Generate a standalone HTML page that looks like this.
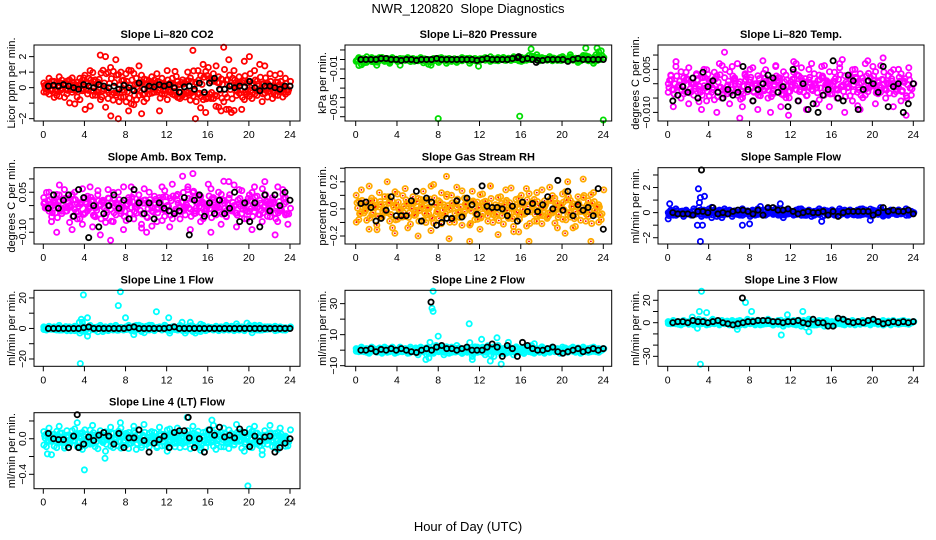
<!DOCTYPE html>
<html><head><meta charset="utf-8"><style>
html,body{margin:0;padding:0;background:#fff}
svg{display:block;font-family:"Liberation Sans",sans-serif}
</style></head><body>
<svg id="fig" width="936" height="540" xmlns="http://www.w3.org/2000/svg">
<rect width="936" height="540" fill="#fff"/>
<text x="468" y="13" text-anchor="middle" font-size="13">NWR_120820&#160;&#160;Slope Diagnostics</text>
<text x="468" y="531" text-anchor="middle" font-size="13">Hour of Day (UTC)</text>
</svg>
<script>
// ---- data (values in data units; x = hour spread evenly over 0..24 by index) ----
const hourTicks = [0,4,8,12,16,20,24];
// CO2 (ppm/min)
const co2Color = [0.3,-0.3,0.6,-0.2,0.4,-0.5,0.7,-0.1,0.3,-0.4,0.5,-0.3,0.2,-0.6,0.6,-0.2,0.8,-0.4,1.1,-0.5,0.5,-0.3,2.1,-0.2,2.0,-0.7,1.3,-0.8,1.8,-2.0,1.0,-0.6,0.9,-1.5,1.1,-1.1,0.6,-0.5,0.8,-0.9,0.5,-0.4,0.7,-0.3,0.9,-1.5,0.6,-0.4,1.1,-0.3,0.6,-0.5,0.4,-0.7,0.5,-0.6,1.0,-0.8,2.4,-2.0,1.1,-1.3,1.5,-1.6,1.3,-0.7,0.9,-1.2,0.7,-1.5,2.6,-1.4,1.8,-1.6,1.1,-0.5,0.7,-1.4,1.7,-0.4,2.0,-0.7,1.1,-0.5,1.5,-0.9,1.4,-0.6,0.9,-0.7,0.8,-0.5,0.9,-0.6,0.6,-0.3,0.4];
const co2Black = [0.1,0.15,0.1,0.2,0.1,0,-0.1,0.2,0.1,0,0.2,0.1,0,0.1,-0.1,0.15,0,-0.2,0.3,-0.1,0.1,0.05,0.2,0.1,0.2,0,-0.3,0.05,0.1,-0.1,0.3,-0.3,0.3,0.6,-0.1,-0.1,0.1,0,0.1,0.05,0.4,0,-0.2,0.1,0.1,0,-0.1,0.1,0.1];
// Pressure (kPa/min)
const presColor = [-0.002,0.002,-0.005,0.001,-0.003,0,0.002,-0.001,-0.006,0.002,0,-0.002,0.001,-0.004,0.002,0,-0.002,0.001,0,-0.001,0.002,0,0.001,-0.001,0,0.002,-0.001,-0.001,-0.005,-0.006,0.001,0,-0.003,0.002,0,-0.004,0.001,-0.002,0,-0.003,-0.001,0.002,0,0.001,-0.004,0,0.001,-0.001,-0.001,0,0.002,0,-0.002,0.001,-0.001,0.002,0,0.001,-0.001,0.001,-0.001,0.002,0,0.001,-0.002,-0.001,0.002,0.001,0,0.003,0.005,-0.001,0.002,0.001,0,0.003,0.001,0,-0.001,0.002,0.003,0,-0.001,0.005,0.001,0,-0.003,-0.001,0.002,0.004,0.003,0.001,-0.004,0.005,0.008,0.009,0.002];
const presColorOutX = [8,15.9,24,11.9,4.3,17,22.3,23.4];
const presColorOutY = [-0.062,-0.0595,-0.0635,-0.007,-0.006,0.011,0.012,0.012];
const presBlack = [0,0,0,0,0.001,0.001,0,0,-0.001,0,0,-0.001,0,0,0,0.001,0,0,0,0,0,0,0,-0.001,0,0.001,0,0,0,0,0.001,0.002,0,0.001,0,-0.001,-0.001,0,0,0,0,-0.002,0,0.001,0,0,0,0,0];
// Li-820 Temp (degC/min)
const tempColor = [-0.003,0.003,-0.008,0.006,-0.001,-0.005,0.002,0.004,-0.007,0,-0.004,0.003,-0.002,-0.009,0.005,-0.006,0.001,-0.003,0.004,-0.010,0.007,-0.005,0.011,-0.001,-0.007,0.006,0.002,-0.004,-0.012,-0.008,0.003,-0.001,0.005,-0.006,0,-0.009,-0.003,0.008,0.002,-0.005,-0.010,-0.002,0.006,0.001,-0.008,-0.004,0.003,-0.011,-0.001,0.004,0.007,-0.006,0.002,-0.003,-0.009,0.005,-0.002,0,-0.007,0.003,0.006,-0.004,0.001,-0.008,-0.002,0.004,-0.005,0.007,-0.001,-0.010,0,0.003,-0.006,0.005,-0.003,-0.009,0.002,-0.004,0.008,-0.001,0.006,-0.007,0.001,-0.003,0.009,-0.005,0,0.004,-0.008,-0.002,0.005,-0.006,0.001,-0.011,0.003,-0.004,0];
const tempBlack = [-0.006,-0.004,-0.001,-0.003,0.002,-0.005,0.004,-0.001,0.001,-0.003,-0.005,-0.002,-0.004,-0.003,0.006,-0.002,-0.006,-0.002,0,0.003,0.002,-0.003,-0.001,-0.008,0.005,-0.006,0,-0.009,-0.007,-0.010,-0.004,-0.002,0.008,-0.005,-0.006,0.003,0.001,-0.009,-0.002,0.001,0,-0.003,0.006,-0.008,-0.001,0,-0.010,-0.007,0];
// Amb Box Temp (degC/min)
const ambColor = [0.03,-0.01,0.05,-0.06,0.02,-0.10,0.04,-0.03,0.06,-0.02,0,-0.09,0.05,-0.05,0.01,-0.07,0.03,-0.02,0.07,-0.08,-0.01,0.04,-0.11,0.02,-0.04,0.06,-0.13,-0.06,0.01,0.05,-0.03,-0.09,0,0.03,0.07,-0.05,-0.01,0.04,-0.07,0.02,-0.10,0.05,-0.02,0.01,-0.06,0.03,0.07,-0.04,0,-0.08,0.08,-0.03,0.02,-0.05,0.11,-0.01,0.06,-0.09,0.12,-0.02,0.04,-0.06,0.01,-0.03,0.08,-0.10,0.03,-0.01,0.05,-0.07,0.02,-0.04,0.09,-0.02,0,-0.08,0.06,-0.03,0.01,-0.05,0.04,-0.09,0.07,-0.01,0.02,-0.06,0.09,-0.04,0.01,0.03,-0.11,-0.06,-0.02,0.06,0.03,-0.07,-0.01];
const ambBlack = [-0.01,0.04,-0.01,0.02,0.04,-0.04,0.06,0.03,-0.12,0,-0.08,-0.03,0,0.04,-0.01,0.02,-0.05,0.06,0.01,-0.03,0.01,-0.05,0.01,-0.01,-0.02,-0.03,-0.02,0.03,-0.11,0.02,0.04,-0.04,0.01,-0.03,0.02,-0.03,-0.01,0.05,-0.06,0.01,-0.06,0.01,-0.08,0.04,-0.02,0.04,0,0.05,0.02];
// Gas Stream RH (%/min)
const rhColor = [0.10,-0.08,0.14,-0.03,0.05,-0.15,0.08,0.02,-0.12,0.12,-0.05,0.03,0.20,-0.09,0.06,-0.18,0.11,0,-0.06,0.15,-0.14,0.04,0.09,-0.02,-0.20,0.07,0.13,-0.10,0.01,-0.16,0.18,-0.04,0.06,-0.11,0.03,0.24,-0.22,0.10,-0.07,0.16,-0.03,-0.12,0.08,0.02,-0.24,0.13,-0.08,0.05,-0.15,0.11,0,-0.05,0.17,-0.10,0.03,-0.19,0.09,-0.02,0.14,-0.06,0.01,-0.13,0.07,-0.17,0.10,-0.04,0.15,-0.24,0.05,-0.09,0.12,-0.01,-0.11,0.06,-0.07,0.16,-0.03,0.08,-0.14,0.02,0.11,-0.18,0.20,-0.06,0.04,-0.13,0.09,-0.02,0.22,-0.09,0.06,-0.24,0.12,-0.04,0.03,-0.08,0.14];
const rhBlack = [0.04,0.05,0.01,-0.09,-0.07,-0.01,0.09,-0.05,-0.05,-0.05,0.06,0.13,-0.09,0.08,0.05,-0.12,-0.10,-0.07,-0.07,0.06,-0.06,0.08,0.03,-0.04,0.17,0.02,0.01,0.01,0,-0.05,0.02,-0.09,0.05,-0.02,0.04,-0.02,0.03,0.09,0,0.21,-0.01,0.13,-0.05,0.03,-0.01,0.01,-0.05,0.15,-0.15];
// Sample Flow (ml/min/min)
const sfColor = [-0.5,0.2,-0.2,0.3,-0.1,0.1,-0.3,0.2,0,-0.2,0.3,-0.1,0.4,-0.3,0.2,-0.2,0.3,-0.4,0.2,-0.3,0.2,-0.4,0.3,-0.1,0.2,-0.3,0.1,0,-0.2,0.3,-0.1,0.1,-0.3,0.2,-0.2,0.3,-0.1,0.2,-0.2,0.3,0.1,-0.1,0.3,-0.2,0.3,-0.4,0.2,-0.1,0.1,-0.2,0.2,-0.1,0.3,-0.2,0,0.2,-0.3,0.1,-0.1,0.3,-0.7,0.2,-0.1,0,0.2,-0.2,0.1,0.3,-0.1,0.2,-0.2,0.1,0,-0.1,0.2,-0.2,0.3,-0.1,0.1,-0.6,0.2,-0.1,0.1,0.4,-0.2,0.1,-0.1,0.2,0,-0.1,0.2,-0.1,0.1,0.3,-0.2,0.1,0];
const sfColorOutX = [0.2,3,3.2,3.6,3.2,3.4,3.1,7.3,8,11,2.9];
const sfColorOutY = [0.7,1.9,1.2,1.3,-2.3,-1.0,0.8,-1.0,-0.9,0.7,-1.0];
const sfBlack = [0,-0.1,-0.1,-0.1,-0.2,0.1,0.1,0,0.4,-0.1,0,-0.1,0.1,0.2,0.2,0.1,-0.1,0.2,-0.2,0.4,0.4,0.2,0.2,0.3,0.1,-0.1,0,0.1,0,0,0.1,-0.2,0.1,-0.3,0,0.1,0.1,0.1,0.1,0.1,-0.2,0,0.4,0.1,0.2,0.1,0.1,0.2,-0.1];
const sfBlackOutX = [3.3];
const sfBlackOutY = [3.4];
// Line 1 Flow
const l1Color = [1,-1,1.5,-0.5,1,-1,2,-1,0.5,-1.5,1,0,1.5,-1,-3,4,-2,-5,2,0,-1,1,2,-2,1,-1,1.5,-1,2,-1,0.5,-1,1,2,-1,-4,2,0,-2,1,1.5,-1,2,-1,0.5,1,-1,2,-1,-3,1,0,-1,2,-1,-3,1,4,-2,-3,1,-2,2,-1,1,0,-1,1.5,-1,1,0,2,-1,1,-0.5,3,-1,1,-1,0,2,-1,1,-1,2,-1,1,-0.5,1,0,1.5,-1,1,-1,0.5,0,1];
const l1ColorOutX = [3.9,3.6,4.3,3.5,7.5,7.3,8,11,12.2,13.5,3.7];
const l1ColorOutY = [22,-23,7,4,24,15,7,11,7,4,6];
const l1Black = [0,0,0,0,0,0,0,0.5,1,0,0,0,0,0,0,0,0.5,1,0,0,0,0,0,0,0.5,1,0,0,0,0,0,0,0,0,0,0,0,0,0,0,0,0,0,0,0,0,0,0,0];
// Line 2 Flow
const l2Color = [1,-1,2,-1,1,-2,2,0,-1,1,-2,2,1,-1,2,-2,0,2,-1,1,-2,2,-1,1,-3,2,-1,-6,2,-1,-2,3,-1,2,-3,1,-2,2,-1,3,-1,-2,1,2,-1,-4,1,2,-1,2,-3,1,-7,2,-1,3,-2,1,-2,2,-1,-3,2,-1,1,-2,2,-1,3,-2,1,-1,2,-2,1,-1,2,-1,1,-2,2,0,-1,1,2,-1,1,-2,2,-1,1,-1,2,-1,1,0,1];
const l2ColorOutX = [7.5,7.4,7.5,11,8,12.2,13.7,14.1,13.4,7.1,11.3,14.8,7.2];
const l2ColorOutY = [38,27,25,17,9,7,8,-9,-4,-5,-6,5,5];
const l2Black = [0,0,1,-1,0.5,0,1,0,1,0,-1,-1.5,0,1,0,2,3,1,1,0,1,2,0,0,0,2,4,2,-4,3,1,-4,5,3,1,0,0,1,2,-1,-2,-1,0,1,-1,0,1,0,1];
const l2BlackOutX = [7.3];
const l2BlackOutY = [31];
// Line 3 Flow
const l3Color = [1,-1,2,-1,1,-2,2,0,-1,2,-2,1,3,-1,2,-2,0,2,-1,1,-2,2,-1,1,-2,2,-1,-3,2,-1,-2,3,-1,2,-2,1,-2,2,-1,3,-1,-2,1,2,-1,-3,1,2,-1,2,-2,1,-3,2,-1,3,-2,1,-2,2,-1,-3,2,-1,1,-2,2,-1,3,-2,1,-1,2,-2,1,-1,2,-1,1,-2,2,0,-1,1,2,-1,1,-2,2,-1,1,-1,2,-1,1,0,1];
const l3ColorOutX = [3.3,3.2,3.1,3.8,2.9,7.6,8.2,6.8,11.1,11.7,13.2,13.8,13.5,4.4,2.4];
const l3ColorOutY = [28,-37,10,9,-5,18,10,-6,-11,7,10,-8,-4,3,5];
const l3Black = [0,1,1,0,2,1,1,0,1,2,0,-1,-2,-1,0,1,1,2,2,2,1,1,0,1,1,2,0,-1,3,0,0,-3,-3,4,3,1,0,1,0,2,3,1,-1,0,1,0,1,0,1];
const l3BlackOutX = [7.3];
const l3BlackOutY = [22];
// Line 4 (LT) Flow
const l4Color = [0.08,-0.09,0.12,-0.03,0.05,-0.10,0.14,0.02,-0.08,0.09,-0.05,0.03,0.11,-0.09,0.06,-0.12,0.10,0,-0.06,0.15,-0.09,0.04,0.09,-0.02,-0.14,0.07,0.13,-0.10,0.01,-0.08,0.12,-0.04,0.06,-0.11,0.03,0.14,-0.12,0.10,-0.07,0.16,-0.03,-0.09,0.08,0.02,-0.10,0.13,-0.08,0.05,-0.14,0.11,0,-0.05,0.12,-0.10,0.03,-0.09,0.09,-0.02,0.14,-0.06,0.01,-0.13,0.07,-0.10,0.10,-0.04,0.15,-0.12,0.05,-0.09,0.12,-0.01,-0.11,0.06,-0.07,0.16,-0.03,0.08,-0.14,0.02,0.11,-0.10,0.14,-0.06,0.04,-0.13,0.09,-0.02,0.15,-0.09,0.06,-0.12,0.12,-0.04,0.03,-0.08,0.10];
const l4ColorOutX = [4,19.9,6,14,16.4,3.3,0.4,0.8,7.5,21.3];
const l4ColorOutY = [-0.35,-0.53,-0.22,0.24,0.21,0.18,-0.17,-0.18,0.18,-0.18];
const l4Black = [0.06,0,-0.01,-0.01,-0.1,0.03,-0.1,-0.06,0.02,-0.02,0.04,0.07,0.03,-0.06,0.06,-0.1,0.01,0.01,0.1,-0.02,-0.15,-0.05,-0.01,0.03,-0.1,0.07,0.09,0.09,0.01,-0.1,0,-0.15,0.1,0.04,0.13,0.02,0.04,0.01,0.11,0.07,-0.09,0.03,-0.03,0.02,0.03,-0.15,-0.1,-0.05,0];
const l4BlackOutX = [3.3,14.1];
const l4BlackOutY = [0.27,0.24];

// ---- layout ----
const cols = [{b0:34,b1:300,h0:43.3,h1:290},{b0:345,b1:611.7,h0:355.7,h1:603.3},{b0:658,b1:924,h0:667.7,h1:913.3}];
const rows = [{t:45,b:121},{t:167.7,b:244},{t:290.3,b:366.3},{t:412.7,b:488.7}];
const NS = 'http://www.w3.org/2000/svg';
const svg = document.getElementById('fig');
function mk(tag, attrs, parent){const e=document.createElementNS(NS,tag);for(const k in attrs)e.setAttribute(k,attrs[k]);(parent||svg).appendChild(e);return e;}

function panel(ci, ri, name, title, ytitle, ymin, ymax, yticks, ylabels, color, cVals, bVals, cox, coy, box, boy, dot){
  const C=cols[ci], R=rows[ri];
  const g=mk('g',{});
  
  
  const xs=h=>C.h0+h/24*(C.h1-C.h0);
  const ys=v=>R.t+(ymax-v)/(ymax-ymin)*(R.b-R.t);
  const t=mk('text',{x:(C.b0+C.b1)/2,y:R.t-7,'text-anchor':'middle','font-size':11,'font-weight':'bold'},g);
  t.textContent=title;
  
  
  const yt=mk('text',{x:0,y:0,'text-anchor':'middle','font-size':11,transform:`translate(${C.b0-19},${(R.t+R.b)/2}) rotate(-90)`},g);
  yt.textContent=ytitle;
  
  
  const pts=mk('g',{fill:'none','stroke-width':1.8},g);
  
  
  const addPt=(x,y,col,r)=>{const c=mk('circle',{cx:xs(x).toFixed(1),cy:ys(y).toFixed(1),r:r,stroke:col},pts);
    
    
    if(dot && col!=='#000'){const d=mk('circle',{cx:xs(x).toFixed(1),cy:ys(y).toFixed(1),r:0.9,fill:dot,stroke:'none'},pts);
      
      }
  };
  const n=cVals.length-1;
  cVals.forEach((v,i)=>addPt(i*24/n+0.05,v,color,2.6));
  cVals.forEach((v,i)=>{ if(i<n) addPt((i+0.5)*24/n,v*0.45,color,2.6); });
  cVals.forEach((v,i)=>{ if(i<n-1) addPt((i+0.25)*24/n,-cVals[n-i]*0.7,color,2.6); });
  cVals.forEach((v,i)=>{ if(i<n-1) addPt((i+0.75)*24/n,cVals[(i+7)%n]*0.3,color,2.6); });
  (cox||[]).forEach((x,i)=>addPt(x,coy[i],color,2.6));
  bVals.forEach((v,i)=>addPt(0.5+i*23.5/(bVals.length-1),v,'#000',2.6));
  (box||[]).forEach((x,i)=>addPt(x,boy[i],'#000',2.6));
  const rect=mk('rect',{x:C.b0,y:R.t,width:C.b1-C.b0,height:R.b-R.t,fill:'none',stroke:'#000','stroke-width':1},g);
  
  
  hourTicks.forEach(h=>{
    mk('line',{x1:xs(h),x2:xs(h),y1:R.b,y2:R.b+5,stroke:'#000'},g);
    const l=mk('text',{x:xs(h),y:R.b+17,'text-anchor':'middle','font-size':10.5},g);
    l.textContent=h;
    
    
  });
  yticks.forEach((v,i)=>{
    const y=ys(v);
    mk('line',{x1:C.b0-5,x2:C.b0,y1:y,y2:y,stroke:'#000'},g);
    if(ylabels[i]!==''){
      const l=mk('text',{x:0,y:0,'text-anchor':'middle','font-size':10.5,transform:`translate(${C.b0-8},${y}) rotate(-90)`},g);
      l.textContent=ylabels[i];
      
      
    }
  });
}

panel(0,0,'panel-co2','Slope Li\u2013820 CO2','Licor ppm per min.',-2.15,2.75,[2,1,0,-1,-2],['2','1','0','','\u22122'],'#ff0000',co2Color,co2Black);
panel(1,0,'panel-pressure','Slope Li\u2013820 Pressure','kPa per min.',-0.0645,0.0152,[0.01,0,-0.01,-0.02,-0.03,-0.04,-0.05,-0.06],['','','\u22120.01','','','','\u22120.05',''],'#00dd00',presColor,presBlack,presColorOutX,presColorOutY,[17.5,15.8],[-0.003,0.003]);
panel(2,0,'panel-li820-temp','Slope Li\u2013820 Temp.','degrees C per min.',-0.013,0.0135,[0.01,0.005,0,-0.005,-0.01],['','0.005','','','\u22120.010'],'#ff00ff',tempColor,tempBlack);
panel(0,1,'panel-amb-temp','Slope Amb. Box Temp.','degrees C per min.',-0.144,0.142,[0.1,0.05,0,-0.05,-0.1],['','0.05','','','\u22120.10'],'#ff00ff',ambColor,ambBlack);
panel(1,1,'panel-rh','Slope Gas Stream RH','percent per min.',-0.259,0.304,[0.3,0.2,0.1,0,-0.1,-0.2],['','0.2','','0.0','','\u22120.2'],'#ffaa00',rhColor,rhBlack,null,null,null,null,'#ff0000');
panel(2,1,'panel-sample-flow','Slope Sample Flow','ml/min per min.',-2.5,3.58,[3,2,1,0,-1,-2],['','2','','0','','\u22122'],'#0000ff',sfColor,sfBlack,sfColorOutX,sfColorOutY,sfBlackOutX,sfBlackOutY);
panel(0,2,'panel-line1','Slope Line 1 Flow','ml/min per min.',-24.8,25,[20,10,0,-10,-20],['20','','0','','\u221220'],'#00ffff',l1Color,l1Black,l1ColorOutX,l1ColorOutY);
panel(1,2,'panel-line2','Slope Line 2 Flow','ml/min per min.',-10.4,38.6,[30,20,10,0,-10],['30','','10','','\u221210'],'#00ffff',l2Color,l2Black,l2ColorOutX,l2ColorOutY,l2BlackOutX,l2BlackOutY);
panel(2,2,'panel-line3','Slope Line 3 Flow','ml/min per min.',-38.9,28.9,[20,10,0,-10,-20,-30],['20','','0','','','\u221230'],'#00ffff',l3Color,l3Black,l3ColorOutX,l3ColorOutY,l3BlackOutX,l3BlackOutY);
panel(0,3,'panel-line4','Slope Line 4 (LT) Flow','ml/min per min.',-0.562,0.293,[0.2,0,-0.2,-0.4],['','0.0','','\u22120.4'],'#00ffff',l4Color,l4Black,l4ColorOutX,l4ColorOutY,l4BlackOutX,l4BlackOutY);
</script>
</body></html>
